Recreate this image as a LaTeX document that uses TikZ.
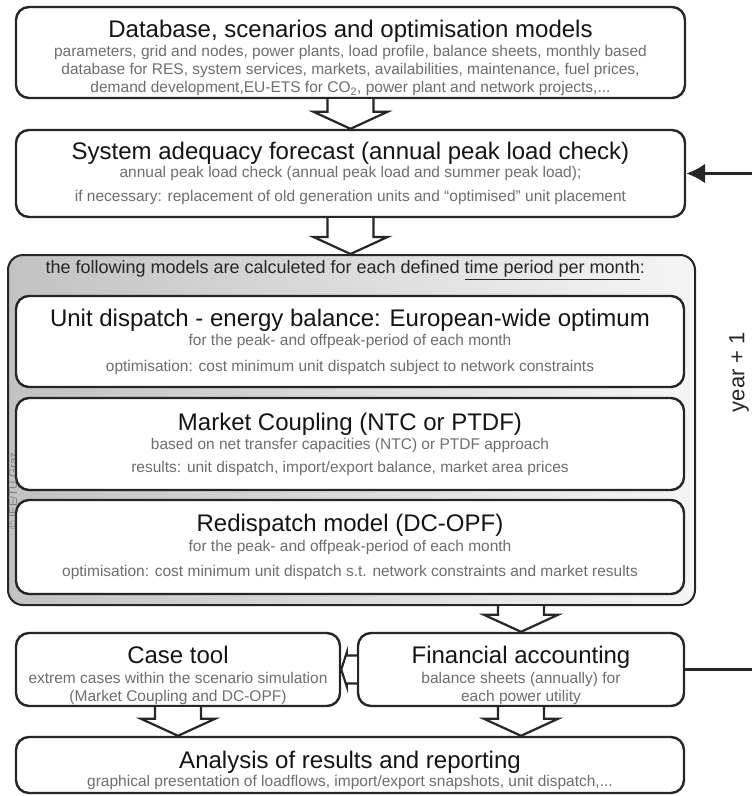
\documentclass[tikz,border=0pt]{standalone}
\usepackage{fontspec}
\setmainfont{Liberation Sans}
\usepackage{tikz}
\usetikzlibrary{arrows,arrows.meta,calc}
\definecolor{boxline}{HTML}{262626}
\definecolor{subgrey}{HTML}{6E6E6E}
\definecolor{shadeL}{HTML}{C2C2C2}
\definecolor{shadeR}{HTML}{F5F5F5}
\newcommand{\ttl}{\fontsize{24}{26}\selectfont\color{black!92}}
\newcommand{\dn}{\rule{0pt}{29pt}}
\tikzstyle{box}=[draw=boxline, line width=2.4pt, rounded corners=13pt, fill=white, inner sep=0pt, align=center, text=subgrey, font=\fontsize{15.5}{18}\selectfont]
\tikzstyle{greyarea}=[draw=boxline, line width=2pt, rounded corners=15pt, left color=shadeL, right color=shadeR, inner sep=0pt]
\tikzstyle{flow}=[draw=boxline, line width=2.2pt, fill=white, line join=miter]
\tikzstyle{feedback}=[line width=3pt, draw=boxline]
\tikzstyle{feedbackarr}=[feedback, -{Latex[length=19pt,width=20pt]}]
% block arrow from #1 (bottom of upper box) to #2 (tip)
\newcommand{\flowdown}[2]{%
  \draw[flow] ($(#1)+(-23,0)$) -- ($(#2)+(-23,-17)$) -- ($(#2)+(-37,-17)$) -- (#2)
    -- ($(#2)+(37,-17)$) -- ($(#2)+(23,-17)$) -- ($(#1)+(23,0)$);}

\begin{document}
\begin{tikzpicture}[x=1pt,y=-1pt]
  \useasboundingbox (0,0) rectangle (752,796);

  \node[box, minimum width=669pt, minimum height=91pt] (db) at (350.5,52.5)
    {\dn{\ttl Database, scenarios and optimisation models}\\[1pt]
     parameters, grid and nodes, power plants, load profile, balance sheets, monthly based\\
     database for RES, system services, markets, availabilities, maintenance, fuel prices,\\
     demand development,EU-ETS for CO\textsubscript{2}, power plant and network projects,...};

  \node[box, minimum width=669pt, minimum height=87pt] (ad) at (350.5,173.5)
    {{\ttl System adequacy forecast (annual peak load check)}\\
     annual peak load check (annual peak load and summer peak load);\\[6pt]
     if necessary: replacement of old generation units and “optimised” unit placement};

  % monthly models
  \node[greyarea, minimum width=687pt, minimum height=350pt] (grey) at (351.5,430) {};
  \node[anchor=west, font=\fontsize{18}{20}\selectfont, text=black!85] (hdr) at (42,270)
    {the following models are calculeted for each defined \underline{time period per month}:};
  \node[rotate=90, font=\fontsize{11.5}{12}\selectfont, text=black!50] (copy) at (13,491)
    {\textcopyright\ IEE/TU Graz};

  \node[box, minimum width=668pt, minimum height=91pt] (ud) at (350,341.5)
    {{\ttl Unit dispatch - energy balance: European-wide optimum}\\[1pt]
     for the peak- and offpeak-period of each month\\[8pt]
     optimisation: cost minimum unit dispatch subject to network constraints};
  \node[box, minimum width=668pt, minimum height=92pt] (mc) at (350,444)
    {{\ttl Market Coupling (NTC or PTDF)}\\[1pt]
     based on net transfer capacities (NTC) or PTDF approach\\[5pt]
     results: unit dispatch, import/export balance, market area prices};
  \node[box, minimum width=668pt, minimum height=94pt] (rd) at (350,547)
    {{\ttl Redispatch model (DC-OPF)}\\[2pt]
     for the peak- and offpeak-period of each month\\[7pt]
     optimisation: cost minimum unit dispatch s.t. network constraints and market results};

  \node[box, minimum width=324pt, minimum height=73pt] (case) at (178,669.5)
    {\dn{\ttl Case tool}\\[2pt]
     extrem cases within the scenario simulation\\
     (Market Coupling and DC-OPF)};
  \node[box, minimum width=326pt, minimum height=73pt] (fin) at (521,669.5)
    {\dn{\ttl Financial accounting}\\[2pt]
     balance sheets (annually) for\\
     each power utility};
  \node[box, minimum width=668pt, minimum height=56pt] (res) at (350,765)
    {\dn{\ttl Analysis of results and reporting}\\
     graphical presentation of loadflows, import/export snapshots, unit dispatch,...};

  % block arrows
  \flowdown{db.south}{ad.north}
  \coordinate (g0) at (grey.north -| ad.south);
  \flowdown{ad.south}{g0}
  \coordinate (g1) at (grey.south -| fin.north);
  \flowdown{g1}{fin.north}
  \coordinate (r0) at (res.north -| case.south);
  \flowdown{case.south}{r0}
  \coordinate (r1) at (res.north -| fin.south);
  \flowdown{fin.south}{r1}
  \draw[flow] ($(fin.west)+(0,-14)$) -- ($(fin.west)+(-10,-14)$) -- ($(fin.west)+(-10,-17)$)
    -- (case.east) -- ($(fin.west)+(-10,17)$) -- ($(fin.west)+(-10,14)$) -- ($(fin.west)+(0,14)$);

  % year loop
  \coordinate (edge) at (752,0);
  \coordinate (e1) at (fin.east -| edge);
  \coordinate (e2) at (ad.east -| edge);
  \draw[feedback] (fin.east) -- (e1);
  \draw[feedbackarr] (e2) -- (ad.east);
  \node[rotate=90, font=\fontsize{22}{22}\selectfont, text=black!85] (yr) at (739,372) {year + 1};
\end{tikzpicture}
\end{document}
